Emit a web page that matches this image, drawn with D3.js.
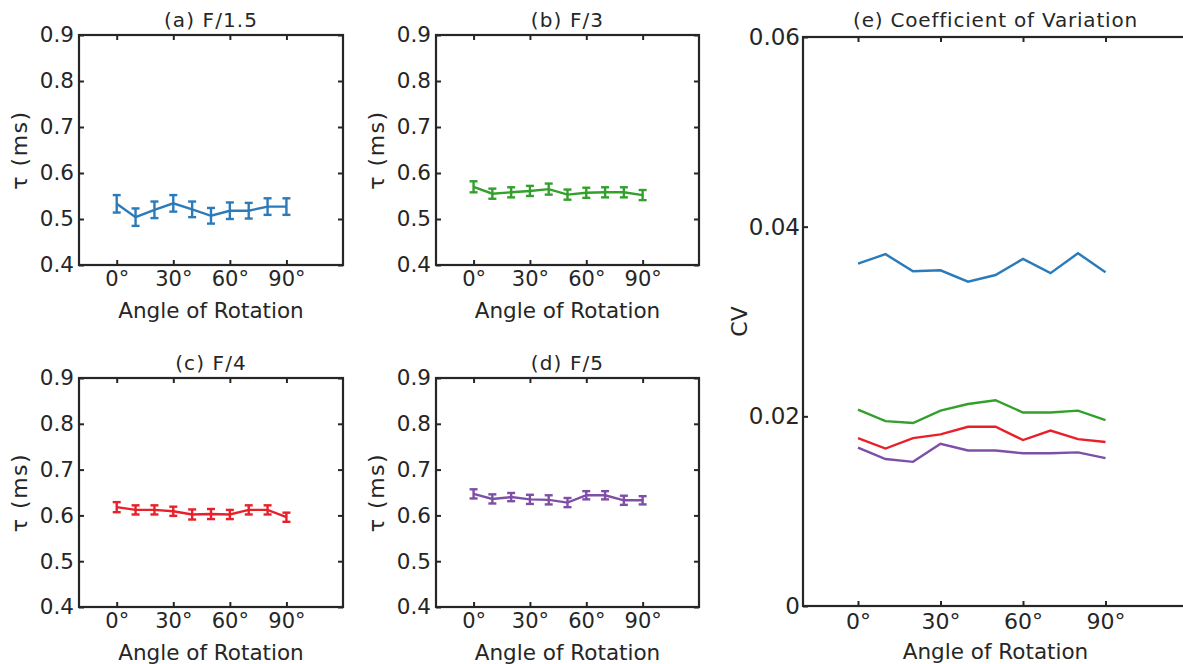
<!DOCTYPE html>
<html>
<head>
<meta charset="utf-8">
<script src="https://cdn.jsdelivr.net/npm/d3@7"></script>
<style>
  body { margin: 0; background: #fff; }
  svg text { font-family: "DejaVu Sans", sans-serif; fill: #262626; }
</style>
</head>
<body>
<div id="container"></div>
<script>
// angles of rotation (degrees)
var angles = [0, 10, 20, 30, 40, 50, 60, 70, 80, 90];
var angleTicks = [0, 30, 60, 90];
var tauTicks = [0.4, 0.5, 0.6, 0.7, 0.8, 0.9];
var cvTicks = [0, 0.02, 0.04, 0.06];

// mean tau (ms) and error bar half-widths per f-number
var tauF15 = [0.533, 0.504, 0.520, 0.534, 0.521, 0.507, 0.518, 0.518, 0.527, 0.527];
var errF15 = [0.019, 0.019, 0.018, 0.018, 0.017, 0.017, 0.018, 0.017, 0.018, 0.018];
var tauF3 = [0.570, 0.555, 0.558, 0.561, 0.565, 0.553, 0.557, 0.558, 0.558, 0.552];
var errF3 = [0.012, 0.011, 0.011, 0.011, 0.012, 0.011, 0.011, 0.011, 0.011, 0.011];
var tauF4 = [0.618, 0.612, 0.612, 0.609, 0.602, 0.603, 0.602, 0.612, 0.612, 0.596];
var errF4 = [0.011, 0.010, 0.010, 0.010, 0.011, 0.011, 0.010, 0.010, 0.010, 0.010];
var tauF5 = [0.647, 0.636, 0.640, 0.635, 0.634, 0.628, 0.644, 0.644, 0.633, 0.633];
var errF5 = [0.010, 0.010, 0.009, 0.010, 0.010, 0.010, 0.009, 0.009, 0.010, 0.009];

// coefficient of variation
var cvF15 = [0.0361, 0.0371, 0.0353, 0.0354, 0.0342, 0.0349, 0.0366, 0.0351, 0.0372, 0.0352];
var cvF3 = [0.0207, 0.0195, 0.0193, 0.0206, 0.0213, 0.0217, 0.0204, 0.0204, 0.0206, 0.0196];
var cvF4 = [0.0177, 0.0166, 0.0177, 0.0181, 0.0189, 0.0189, 0.0175, 0.0185, 0.0176, 0.0173];
var cvF5 = [0.0167, 0.0155, 0.0152, 0.0171, 0.0164, 0.0164, 0.0161, 0.0161, 0.0162, 0.0156];

var colors = { f15: "#2b7bba", f3: "#33a02c", f4: "#e8202a", f5: "#7e4fa6" };

var W = 1183, H = 664;
var svg = d3.select("#container").append("svg")
  .attr("width", W).attr("height", H)
  .attr("viewBox", "0 0 " + W + " " + H);

var degFmt = function(d) { return d + "\u00B0"; };

function frame(g, x, y, opt) {
  var x0 = x.range()[0], x1 = x.range()[1];
  var y0 = y.range()[0], y1 = y.range()[1];

  // inward ticks on all four sides
  var left = g.append("g").attr("transform", "translate(" + x0 + ",0)")
    .call(d3.axisLeft(y).tickValues(opt.yTicks).tickSizeInner(-5).tickSizeOuter(0)
      .tickPadding(opt.yPad).tickFormat(opt.yFmt));
  var bottom = g.append("g").attr("transform", "translate(0," + y0 + ")")
    .call(d3.axisBottom(x).tickValues(angleTicks).tickSizeInner(-5).tickSizeOuter(0)
      .tickPadding(opt.xPad).tickFormat(degFmt));
  g.append("g").attr("transform", "translate(" + x1 + ",0)")
    .call(d3.axisRight(y).tickValues(opt.yTicks).tickSizeInner(-5).tickSizeOuter(0).tickFormat(""));
  g.append("g").attr("transform", "translate(0," + y1 + ")")
    .call(d3.axisTop(x).tickValues(angleTicks).tickSizeInner(-5).tickSizeOuter(0).tickFormat(""));

  g.selectAll(".domain").remove();
  g.selectAll(".tick line").attr("stroke", "#262626").attr("stroke-width", 2);
  left.selectAll("text").style("font-size", opt.yTickFont + "px").attr("fill", "#262626");
  bottom.selectAll("text").style("font-size", opt.xTickFont + "px").attr("fill", "#262626");

  g.append("rect")
    .attr("x", x0).attr("y", y1).attr("width", x1 - x0).attr("height", y0 - y1)
    .attr("fill", "none").attr("stroke", "#262626").attr("stroke-width", 2.2);

  var cx = (x0 + x1) / 2;
  g.append("text").attr("x", cx).attr("y", y1 - opt.titleOff)
    .attr("text-anchor", "middle").style("font-size", "20px")
    .style("letter-spacing", opt.titleSpacing + "px").text(opt.title);
  g.append("text").attr("x", cx).attr("y", y0 + opt.xLabelOff)
    .attr("text-anchor", "middle").style("font-size", "21.5px").text("Angle of Rotation");
  g.append("text")
    .attr("transform", "translate(" + opt.yLabelX + "," + ((y0 + y1) / 2) + ") rotate(-90)")
    .attr("text-anchor", "middle").style("font-size", "22px")
    .style("letter-spacing", opt.yLabelSpacing + "px").text(opt.yLabel);
}

function tauPanel(box, title, vals, errs, color) {
  var g = svg.append("g");
  var x = d3.scaleLinear().domain([-20, 120]).range([box.l, box.r]);
  var y = d3.scaleLinear().domain([0.4, 0.9]).range([box.b, box.t]);

  frame(g, x, y, {
    yTicks: tauTicks, yFmt: d3.format(".1f"), yPad: 5, xPad: 6,
    yTickFont: 21.5, xTickFont: 21,
    title: title, titleOff: 8, titleSpacing: 1.1,
    yLabel: "\u03C4 (ms)", yLabelSpacing: 1.5, xLabelOff: 53, yLabelX: box.l - 52
  });

  var pts = angles.map(function(a, i) { return { a: a, v: vals[i], e: errs[i] }; });
  g.append("path").datum(pts)
    .attr("fill", "none").attr("stroke", color).attr("stroke-width", 2.4)
    .attr("d", d3.line().x(function(d) { return x(d.a); }).y(function(d) { return y(d.v); }));

  var eb = g.append("g").attr("stroke", color).attr("stroke-width", 2.4);
  pts.forEach(function(d) {
    var px = x(d.a);
    eb.append("line").attr("x1", px).attr("x2", px).attr("y1", y(d.v - d.e)).attr("y2", y(d.v + d.e));
    eb.append("line").attr("x1", px - 4).attr("x2", px + 4).attr("y1", y(d.v - d.e)).attr("y2", y(d.v - d.e));
    eb.append("line").attr("x1", px - 4).attr("x2", px + 4).attr("y1", y(d.v + d.e)).attr("y2", y(d.v + d.e));
  });
}

tauPanel({ l: 79, r: 343, t: 35, b: 265 }, "(a) F/1.5", tauF15, errF15, colors.f15);
tauPanel({ l: 436, r: 699, t: 35, b: 265 }, "(b) F/3", tauF3, errF3, colors.f3);
tauPanel({ l: 79, r: 343, t: 378, b: 607 }, "(c) F/4", tauF4, errF4, colors.f4);
tauPanel({ l: 436, r: 699, t: 378, b: 607 }, "(d) F/5", tauF5, errF5, colors.f5);

// (e) coefficient of variation
(function() {
  var box = { l: 803, r: 1188, t: 37, b: 606 };
  var g = svg.append("g");
  var x = d3.scaleLinear().domain([-20, 120]).range([box.l, box.r]);
  var y = d3.scaleLinear().domain([0, 0.06]).range([box.b, box.t]);

  frame(g, x, y, {
    yTicks: cvTicks, yFmt: function(d) { return d === 0 ? "0" : d3.format(".2f")(d); },
    yPad: 3, xPad: 7, yTickFont: 23, xTickFont: 22,
    title: "(e) Coefficient of Variation", titleOff: 10, titleSpacing: 0.8,
    yLabel: "CV", yLabelSpacing: 0, xLabelOff: 53, yLabelX: box.l - 56
  });

  var line = d3.line().x(function(d, i) { return x(angles[i]); }).y(function(d) { return y(d); });
  [[cvF15, colors.f15], [cvF3, colors.f3], [cvF4, colors.f4], [cvF5, colors.f5]].forEach(function(s) {
    g.append("path").datum(s[0])
      .attr("fill", "none").attr("stroke", s[1]).attr("stroke-width", 2.4)
      .attr("d", line);
  });
})();
</script>
</body>
</html>
